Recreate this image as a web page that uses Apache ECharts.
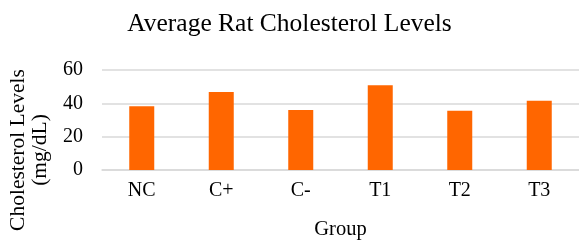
<!DOCTYPE html>
<html lang="en">
<head>
    <meta charset="UTF-8">
    <title>Average Rat Cholesterol Levels</title>
    <script src="https://cdn.jsdelivr.net/npm/echarts@6/dist/echarts.min.js"></script>
    <style>
        html, body { margin: 0; padding: 0; background: #fff; }
    </style>
</head>
<body>
    <div id="box" style="width: 579px; height: 242px;"></div>
</body>
<script>
    var groups = ['NC', 'C+', 'C-', 'T1', 'T2', 'T3']
    var cholesterol = [38.3, 46.8, 36.0, 50.8, 35.6, 41.6]
    var yTicks = [0, 20, 40, 60]

    var font = '"Liberation Serif", "Times New Roman", serif'
    var chart = echarts.init(document.querySelector('#box'))

    var option = {
        animation: false,
        title: {
            text: 'Average Rat Cholesterol Levels',
            left: 'center',
            top: 6,
            textStyle: { fontFamily: font, fontSize: 25.5, fontWeight: 'normal', color: '#000' }
        },
        grid: { left: 102, right: -3, top: 70, bottom: 72 },
        xAxis: {
            type: 'category',
            data: groups,
            name: 'Group',
            nameLocation: 'middle',
            nameGap: 49,
            nameTextStyle: { fontFamily: font, fontSize: 20.5, color: '#000' },
            axisLine: { lineStyle: { color: '#d9d9d9', width: 1.5 } },
            axisTick: { show: false },
            axisLabel: { fontFamily: font, fontSize: 20, color: '#000', margin: 11 }
        },
        yAxis: {
            type: 'value',
            min: yTicks[0],
            max: yTicks[yTicks.length - 1],
            interval: 20,
            axisLine: { show: false },
            axisTick: { show: false },
            splitLine: { lineStyle: { color: '#d9d9d9', width: 1.5 } },
            axisLabel: { fontFamily: font, fontSize: 20, color: '#000', margin: 19 }
        },
        graphic: [{
            type: 'text',
            x: 29,
            y: 150,
            rotation: Math.PI / 2,
            style: {
                text: 'Cholesterol Levels\n(mg/dL)',
                fontFamily: font,
                fontSize: 21.5,
                lineHeight: 22,
                fill: '#000',
                align: 'center',
                verticalAlign: 'middle'
            }
        }],
        series: [{
            name: 'Cholesterol',
            type: 'bar',
            data: cholesterol,
            barWidth: 25,
            itemStyle: { color: '#ff6600' }
        }]
    }
    chart.setOption(option)
</script>
</html>
